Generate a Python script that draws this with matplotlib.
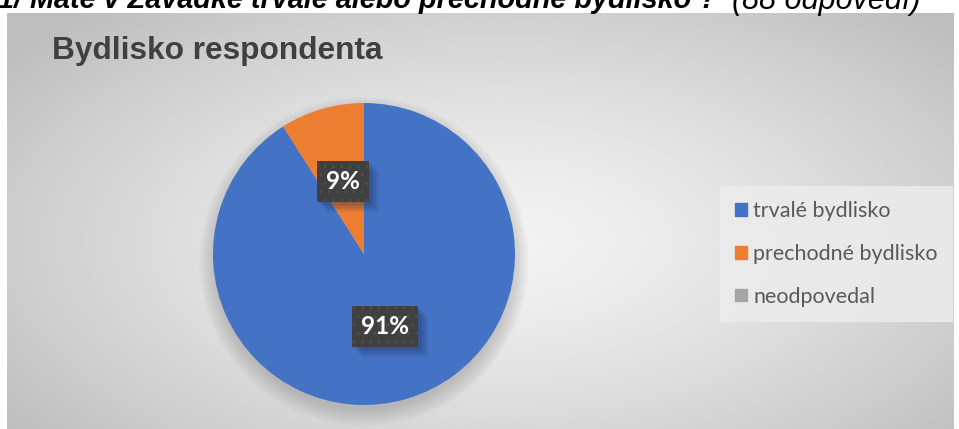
import matplotlib.pyplot as plt
import matplotlib.patches as mpatches
import matplotlib.patheffects as pe
import numpy as np

# data
categories = ['trvalé bydlisko', 'prechodné bydlisko', 'neodpovedal']
shares = [91, 9, 0]
colors = ['#4472C4', '#ED7D31', '#A5A5A5']
title = 'Bydlisko respondenta'
question = '1/ Máte v Závadke trvalé alebo prechodné bydlisko ?'
answers_note = '(88 odpovedí)'

W, H = 959, 429
fig = plt.figure(figsize=(W / 100, H / 100), dpi=100)
fig.patch.set_facecolor('white')

# chart area with radial grey gradient
bg = fig.add_axes([7 / W, 0, (954 - 7) / W, (H - 13) / H])
bg.set_axis_off()
yy, xx = np.mgrid[0:1:300j, 0:1:600j]
r = np.sqrt(((xx - 0.52) / 0.75) ** 2 + ((yy - 0.55) / 0.85) ** 2)
grad = np.clip(0.95 - 0.25 * r ** 1.4, 0.74, 0.95)
bg.imshow(grad, cmap='gray', vmin=0, vmax=1, aspect='auto', extent=[0, 1, 0, 1])

# question text, top part clipped by the figure edge as in the source
base_y = 1 - 8.5 / H
qt = fig.text(-2 / W, base_y, question, fontsize=20.8, fontweight='bold',
              fontstyle='italic', family='Liberation Sans', va='baseline')
fig.canvas.draw()
bb = qt.get_window_extent()
fig.text((bb.x1 + 15) / W, base_y, answers_note, fontsize=22,
         fontstyle='italic', family='Liberation Sans', va='baseline')

fig.text(52 / W, 1 - 59 / H, title, fontsize=22.8, fontweight='bold',
         color='#404040', family='Liberation Sans', va='baseline')

# pie
ax = fig.add_axes([213 / W, (H - 405) / H, 302 / W, 302 / H])

# soft shadow under pie
for k in range(12):
    ax.add_patch(mpatches.Circle((0.0, -0.05), 0.98 + k * 0.01, color='#808080',
                                 alpha=0.035, lw=0, zorder=0, clip_on=False))

label_size = 17.5
wedges, _, autotexts = ax.pie(shares, colors=colors, startangle=90, counterclock=False,
                              radius=1.0, autopct=lambda p: '%d%%' % round(p) if p > 0 else '',
                              pctdistance=0.5, wedgeprops=dict(linewidth=0),
                              textprops=dict(color='white', fontsize=label_size,
                                             fontweight='bold', family='Lato'))
ax.set_xlim(-1, 1)
ax.set_ylim(-1, 1)
ax.set_axis_off()
ax.set_aspect('equal')

# blurred-looking shadow: several faint offset copies
shadow_fx = [pe.withSimplePatchShadow(offset=(d, -d), shadow_rgbFace='#1a2a50', alpha=0.07)
             for d in (1, 2, 3, 4, 5, 6, 7)]

for w in wedges:
    w.set_zorder(2)
for t, v in zip(autotexts, shares):
    if not t.get_text():
        continue
    x, y = t.get_position()
    # shadow box underneath
    sh = ax.text(x, y, t.get_text(), ha='center', va='center', fontsize=label_size,
                 fontweight='bold', family='Lato', color='none', zorder=4)
    sh.set_bbox(dict(boxstyle='square,pad=0.37', facecolor='#404040', linewidth=0))
    sh.get_bbox_patch().set_path_effects(shadow_fx)
    t.set_zorder(5)
    t.set_bbox(dict(boxstyle='square,pad=0.37', facecolor='#404040', edgecolor='#4e4e4e',
                    hatch='..', linewidth=0))

handles = [mpatches.Patch(color=c, label=l) for c, l in zip(colors, categories)]
leg = fig.legend(handles=handles, loc='center left', bbox_to_anchor=(720 / W, 1 - 254 / H),
                 frameon=True, fancybox=False, handlelength=0.55, handleheight=0.55,
                 handletextpad=0.3, labelspacing=1.05, borderpad=0.7, borderaxespad=0,
                 prop=dict(family='Lato', size=15.5))
leg.get_frame().set_facecolor('#ebebeb')
leg.get_frame().set_edgecolor('none')
leg.get_frame().set_alpha(0.9)
for txt in leg.get_texts():
    txt.set_color('#595959')

fig.savefig('out.png', dpi=100)
